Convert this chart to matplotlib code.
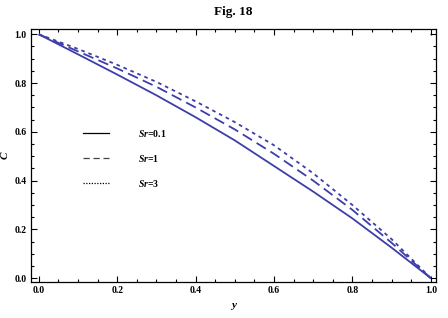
import matplotlib
matplotlib.use("Agg")
import matplotlib.pyplot as plt
from matplotlib.lines import Line2D
from matplotlib.ticker import MultipleLocator

y_vals = [0.0, 0.1, 0.2, 0.3, 0.4, 0.5, 0.6, 0.7, 0.8, 0.9, 1.0]
c_sr01 = [1.0, 0.918, 0.835, 0.75, 0.66, 0.565, 0.46, 0.355, 0.245, 0.125, 0.0]
c_sr1 = [1.0, 0.93, 0.86, 0.785, 0.70, 0.61, 0.51, 0.40, 0.28, 0.145, 0.0]
c_sr3 = [1.0, 0.94, 0.875, 0.805, 0.725, 0.64, 0.545, 0.43, 0.30, 0.16, 0.0]
labels = ["Sr=0.1", "Sr=1", "Sr=3"]

plt.rcParams['font.family'] = ['Liberation Serif', 'DejaVu Serif']
plt.rcParams['mathtext.fontset'] = 'custom'
plt.rcParams['mathtext.rm'] = 'Liberation Serif:bold'
plt.rcParams['mathtext.it'] = 'Liberation Serif:bold:italic'
plt.rcParams['mathtext.bf'] = 'Liberation Serif:bold'

fig = plt.figure(figsize=(4.48, 3.18), dpi=100)
ax = fig.add_axes([0.069, 0.113, 0.904, 0.796])

blue = '#3d3dab'
ax.plot(y_vals, c_sr01, color=blue, lw=1.3, solid_capstyle='butt')
ax.plot(y_vals, c_sr1, color=blue, lw=1.3, dashes=(6, 3))
ax.plot(y_vals, c_sr3, color=blue, lw=1.3, dashes=(2, 2.2))

ax.set_xlim(-0.02, 1.013)
ax.set_ylim(-0.016, 1.022)
ax.xaxis.set_major_locator(MultipleLocator(0.2))
ax.xaxis.set_minor_locator(MultipleLocator(0.05))
ax.yaxis.set_major_locator(MultipleLocator(0.2))
ax.yaxis.set_minor_locator(MultipleLocator(0.05))
ax.xaxis.set_major_formatter(matplotlib.ticker.FormatStrFormatter('%.1f'))
ax.yaxis.set_major_formatter(matplotlib.ticker.FormatStrFormatter('%.1f'))
ax.tick_params(which='both', direction='in', top=True, right=True,
               labeltop=False, labelright=False, width=0.8)
ax.tick_params(which='major', length=4, labelsize=7, pad=3)
ax.tick_params(which='minor', length=2.2)
for lab in ax.get_xticklabels() + ax.get_yticklabels():
    lab.set_fontweight('bold')
for sp in ax.spines.values():
    sp.set_linewidth(0.9)

ax.set_xlabel('y', fontsize=8, fontstyle='italic', fontweight='bold')
ax.xaxis.set_label_coords(0.5, -0.075)
ax.set_ylabel('C', fontsize=8, fontstyle='italic', fontweight='bold')
ax.yaxis.set_label_coords(-0.052, 0.5)
ax.set_title('Fig. 18', fontsize=9.5, fontweight='bold', pad=10)

handles = [Line2D([], [], color='black', lw=0.9),
           Line2D([], [], color='#444444', lw=0.9, dashes=(5, 3)),
           Line2D([], [], color='black', lw=0.9, dashes=(1, 1.2))]
leg_labels = [r'$Sr$=0.1', r'$Sr$=1', r'$Sr$=3']
leg = ax.legend(handles, leg_labels, loc='upper left', bbox_to_anchor=(0.108, 0.645),
                frameon=False, fontsize=7, handlelength=2.6, handletextpad=3.0,
                labelspacing=1.45)
for t in leg.get_texts():
    t.set_fontweight('bold')

fig.savefig('out.png', dpi=100)
